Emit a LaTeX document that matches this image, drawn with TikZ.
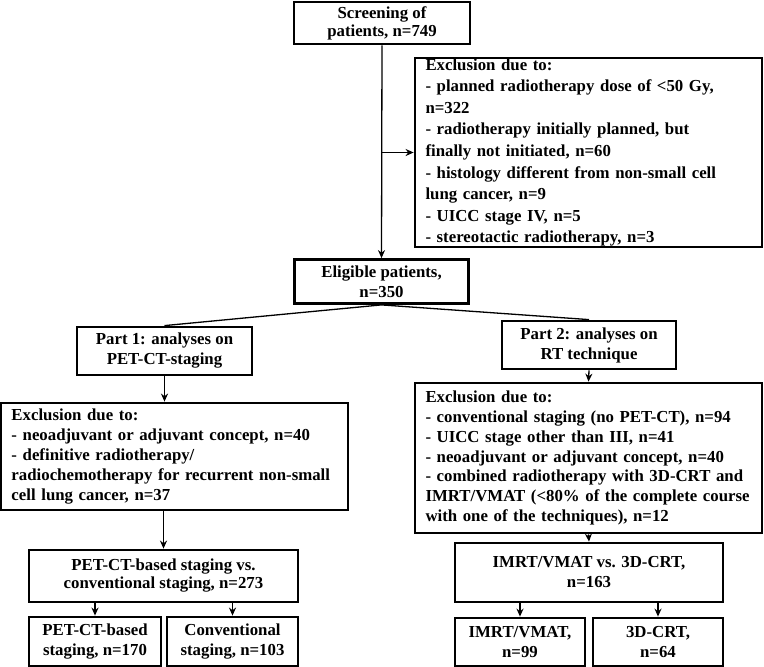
\documentclass[tikz,border=0pt]{standalone}
\usepackage{fontspec}
\setmainfont{Liberation Serif}
\usetikzlibrary{arrows.meta, positioning, calc}

\begin{document}
\begin{tikzpicture}[
    x=1pt, y=-1pt,
    box/.style={rectangle, draw, line width=2.8pt, align=center, inner sep=0pt, font=\bfseries\fontsize{16.8}{20}\selectfont},
    exclbox/.style={box, align=left, text width=326pt, inner xsep=10.5pt, minimum width=347pt, font=\bfseries\fontsize{16.8}{19.8}\selectfont},
    arrow/.style={line width=1.3pt, -{Stealth[length=8pt,width=7pt]}},
    link/.style={line width=1.3pt}
  ]
  \useasboundingbox (0,0) rectangle (764,667);

  % screening and first exclusion
  \node (screen) [box, minimum width=176pt, minimum height=42pt, font=\bfseries\fontsize{16.8}{18}\selectfont] at (382,23) {Screening of\\patients, n=749};
  \node (excl1) [exclbox, minimum height=189pt, font=\bfseries\fontsize{16.8}{21.6}\selectfont] at (588.5,152.5) {Exclusion due to:\\
    - planned radiotherapy dose of <50 Gy,\\
    n=322\\
    - radiotherapy initially planned, but\\
    finally not initiated, n=60\\
    - histology different from non-small cell\\
    lung cancer, n=9\\
    - UICC stage IV, n=5\\
    - stereotactic radiotherapy, n=3};
  \node (elig) [box, minimum width=174pt, minimum height=44pt] at (381.5,281.5) {Eligible patients,\\n=350};

  % part 1: PET-CT staging
  \node (part1) [box, minimum width=175pt, minimum height=48pt] at (164.5,351) {Part 1: analyses on\\PET-CT-staging};
  \node (excl2) [exclbox, minimum height=107pt] at (174.5,456.5) {Exclusion due to:\\
    - neoadjuvant or adjuvant concept, n=40\\
    - definitive radiotherapy/\\
    radiochemotherapy for recurrent non-small\\
    cell lung cancer, n=37};
  \node (petvs) [box, minimum width=269pt, minimum height=52pt, font=\bfseries\fontsize{16.8}{18}\selectfont] at (163.5,576) {PET-CT-based staging vs.\\conventional staging, n=273};
  \node (petb) [box, minimum width=132pt, minimum height=49pt] at (95,641.5) {PET-CT-based\\staging, n=170};
  \node (conv) [box, minimum width=131pt, minimum height=49pt] at (232.5,641.5) {Conventional\\staging, n=103};

  % part 2: RT technique
  \node (part2) [box, minimum width=174pt, minimum height=48pt] at (589,345) {Part 2: analyses on\\RT technique};
  \node (excl3) [exclbox, minimum height=150pt] at (588.5,458) {Exclusion due to:\\
    - conventional staging (no PET-CT), n=94\\
    - UICC stage other than III, n=41\\
    - neoadjuvant or adjuvant concept, n=40\\
    - combined radiotherapy with 3D-CRT and\\
    IMRT/VMAT (<80\% of the complete course\\
    with one of the techniques), n=12};
  \node (imrtvs) [box, minimum width=268pt, minimum height=59pt] at (589,572.5) {IMRT/VMAT vs. 3D-CRT,\\n=163};
  \node (imrt) [box, minimum width=130pt, minimum height=48pt] at (520,642) {IMRT/VMAT,\\n=99};
  \node (crt) [box, minimum width=130pt, minimum height=48pt] at (658,642) {3D-CRT,\\n=64};

  \coordinate (branch) at (screen.south |- excl1.west);
  \draw [arrow] (screen.south) -- (elig.north);
  \draw [arrow] (branch) -- (excl1.west);
  \draw [link] (elig.south) -- (part1.north);
  \draw [link] (elig.south) -- (part2.north);

  \draw [arrow] (part1.south) -- (part1.south |- excl2.north);
  \draw [arrow] (petvs.north |- excl2.south) -- (petvs.north);
  \draw [arrow] (petb.north |- petvs.south) -- (petb.north);
  \draw [arrow] (conv.north |- petvs.south) -- (conv.north);

  \draw [arrow] (part2.south) -- (excl3.north);
  \draw [arrow] (excl3.south) -- (imrtvs.north);
  \draw [arrow] (imrt.north |- imrtvs.south) -- (imrt.north);
  \draw [arrow] (crt.north |- imrtvs.south) -- (crt.north);
\end{tikzpicture}
\end{document}
